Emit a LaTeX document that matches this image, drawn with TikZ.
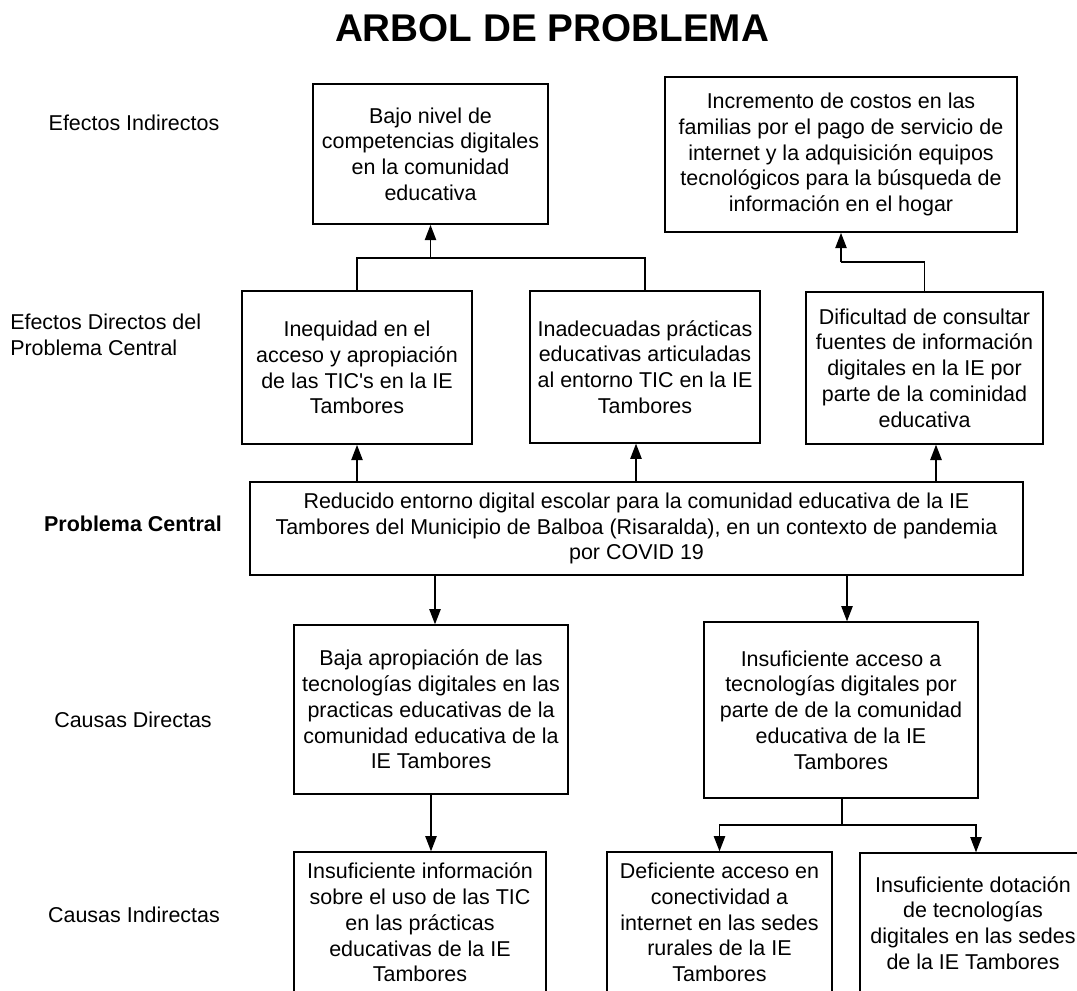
\documentclass[tikz,border=0pt]{standalone}
\usepackage{fontspec}
\setmainfont{Liberation Sans}
\usetikzlibrary{arrows.meta}
\begin{document}
\begin{tikzpicture}[x=0.75pt,y=-0.75pt,
  box/.style={draw, line width=1.3pt, align=center, inner sep=0pt, font=\fontsize{16.1}{19.3}\selectfont},
  lbl/.style={align=left, inner sep=0pt, font=\fontsize{16.1}{19.3}\selectfont},
  conn/.style={line width=1.2pt},
  thin/.style={line width=0.8pt},
  arr/.style={line width=1.2pt, -{Triangle[width=8.5pt,length=11.5pt]}}]
\clip (0,0) rectangle (1077,990);
\fill[white] (0,0) rectangle (1077,990);

% title
\node[font=\bfseries\fontsize{29}{32}\selectfont] (title) at (552,28) {ARBOL DE PROBLEMA};

% row labels
\node[lbl] (l1) at (134,123) {Efectos Indirectos};
\node[lbl, anchor=west] (l2) at (10,335) {Efectos Directos del\\Problema Central};
\node[lbl, font=\bfseries\fontsize{16.1}{19.3}\selectfont] (l3) at (133,524) {Problema Central};
\node[lbl] (l4) at (133,720) {Causas Directas};
\node[lbl] (l5) at (134,915) {Causas Indirectas};

% boxes
\node[box, minimum width=176.25pt, minimum height=105pt] (B1) at (430.5,154)
  {Bajo nivel de\\competencias digitales\\en la comunidad\\educativa};
\node[box, minimum width=264pt, minimum height=116.25pt] (B2) at (841,154.5)
  {Incremento de costos en las\\familias por el pago de servicio de\\internet y la adquisición equipos\\tecnológicos para la búsqueda de\\información en el hogar};
\node[box, minimum width=172.5pt, minimum height=114.75pt] (B3) at (357,367.5)
  {Inequidad en el\\acceso y apropiación\\de las TIC\textquotesingle s en la IE\\Tambores};
\node[box, line width=0.9pt, minimum width=172.5pt, minimum height=114pt] (B4) at (645,367)
  {Inadecuadas prácticas\\educativas articuladas\\al entorno TIC en la IE\\Tambores};
\node[box, line width=1pt, minimum width=177.75pt, minimum height=114pt] (B5) at (924.5,368)
  {Dificultad de consultar\\fuentes de información\\digitales en la IE por\\parte de la cominidad\\educativa};
\node[box, line width=1.1pt, minimum width=579.75pt, minimum height=69.75pt] (C) at (636.5,528.5)
  {Reducido entorno digital escolar para la comunidad educativa de la IE\\Tambores del Municipio de Balboa (Risaralda), en un contexto de pandemia\\por COVID 19};
\node[box, line width=1pt, minimum width=205.5pt, minimum height=126.75pt] (B6) at (431,709.5)
  {Baja apropiación de las\\tecnologías digitales en las\\practicas educativas de la\\comunidad educativa de la\\IE Tambores};
\node[box, line width=1pt, minimum width=205.5pt, minimum height=132pt] (B7) at (841,710)
  {Insuficiente acceso a\\tecnologías digitales por\\parte de de la comunidad\\educativa de la IE\\Tambores};
\node[box, line width=1pt, minimum width=189pt, minimum height=105.75pt] (B8) at (420,922.5)
  {Insuficiente información\\sobre el uso de las TIC\\en las prácticas\\educativas de la IE\\Tambores};
\node[box, line width=1pt, minimum width=168.75pt, minimum height=105.75pt] (B9) at (719.5,922.5)
  {Deficiente acceso en\\conectividad a\\internet en las sedes\\rurales de la IE\\Tambores};
\node[box, line width=1pt, minimum width=169.5pt, minimum height=105pt] (B10) at (973,923)
  {Insuficiente dotación\\de tecnologías\\digitales en las sedes\\de la IE Tambores};

% connectors: effects
\coordinate (j1) at (430.5,258);
\draw[conn] (B3.north) |- (j1);
\draw[thin] (j1) -| (B4.north);
\draw[arr] (j1) -- (B1.south);
\coordinate (j2) at (841,262);
\draw[conn] (B5.north) |- (j2);
\draw[arr] (j2) -- (B2.south);

% central to direct effects
\coordinate (a1) at (357,0);
\coordinate (a2) at (636,0);
\coordinate (a3) at (936,0);
\draw[arr] (C.north -| a1) -- (B3.south -| a1);
\draw[arr] (C.north -| a2) -- (B4.south -| a2);
\draw[arr] (C.north -| a3) -- (B5.south -| a3);

% central to causes
\coordinate (c1) at (435,0);
\coordinate (c2) at (847,0);
\draw[arr] (C.south -| c1) -- (B6.north -| c1);
\draw[arr] (C.south -| c2) -- (B7.north -| c2);

% indirect causes
\draw[arr] (B6.south) -- (B8.north -| B6.south);
\coordinate (j3) at (842,825);
\coordinate (c3) at (976,0);
\draw[conn] (B7.south -| j3) -- (j3);
\draw[arr] (j3) -| (B9.north);
\draw[arr] (j3) -| (B10.north -| c3);
\end{tikzpicture}
\end{document}
